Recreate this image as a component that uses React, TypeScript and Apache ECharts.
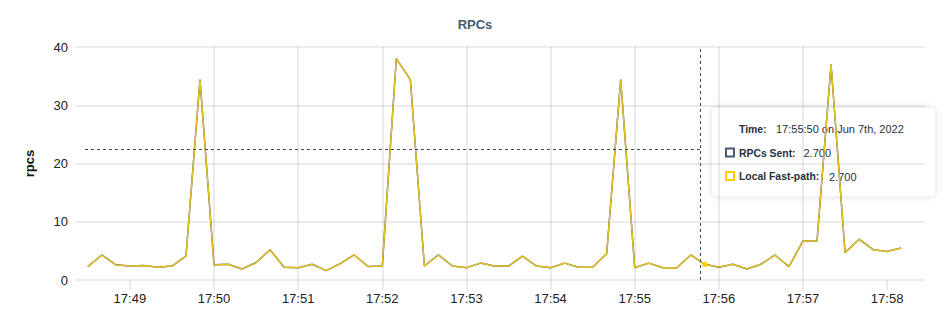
import React, { useEffect, useRef } from 'react';
import * as echarts from 'echarts';

// ---- data ----
const startTime = Date.UTC(2022, 5, 7, 17, 48, 30);
const stepMs = 10000;
const rpcsSent = [
  2.3, 4.3, 2.6, 2.4, 2.5, 2.2, 2.4, 4.1, 34.4, 2.6, 2.7, 1.9, 3.0, 5.2, 2.2, 2.1, 2.7, 1.6, 2.8, 4.3,
  2.3, 2.4, 38.0, 34.4, 2.4, 4.3, 2.4, 2.1, 2.9, 2.4, 2.4, 4.1, 2.4, 2.1, 2.9, 2.2, 2.2, 4.5, 34.4, 2.1, 2.9,
  2.1, 2.1, 4.3, 2.7, 2.2, 2.7, 1.9, 2.7, 4.3, 2.3, 6.7, 6.7, 37.0, 4.7, 7.0, 5.2, 4.9, 5.5,
];
const localFastPath = [
  2.3, 4.3, 2.6, 2.4, 2.5, 2.2, 2.4, 4.1, 34.4, 2.6, 2.7, 1.9, 3.0, 5.2, 2.2, 2.1, 2.7, 1.6, 2.8, 4.3,
  2.3, 2.4, 38.0, 34.4, 2.4, 4.3, 2.4, 2.1, 2.9, 2.4, 2.4, 4.1, 2.4, 2.1, 2.9, 2.2, 2.2, 4.5, 34.4, 2.1, 2.9,
  2.1, 2.1, 4.3, 2.7, 2.2, 2.7, 1.9, 2.7, 4.3, 2.3, 6.7, 6.7, 37.0, 4.7, 7.0, 5.2, 4.9, 5.5,
];
const seriesNames = ['RPCs Sent', 'Local Fast-path'];
const seriesColors = ['#475872', '#FFCD02'];
const xMinTime = Date.UTC(2022, 5, 7, 17, 48, 28);
const xMaxTime = Date.UTC(2022, 5, 7, 17, 58, 27);
const xTickMinutes = [49, 50, 51, 52, 53, 54, 55, 56, 57, 58];
const yTicks = [0, 10, 20, 30, 40];
const hoverIndex = 44;
const cursorTime = Date.UTC(2022, 5, 7, 17, 55, 47);
const cursorValue = 22.5;
const tooltipTimeText = '17:55:50 on Jun 7th, 2022';

const FONT = '"Liberation Sans", Arial, Helvetica, sans-serif';
const GRID = 'rgba(0,0,0,0.08)';

export default function App() {
  const ref = useRef<HTMLDivElement>(null);
  useEffect(() => {
    document.body.style.margin = '0';
    const chart = echarts.init(ref.current!, null, { renderer: 'svg' });
    const minuteTicks = xTickMinutes.map((m) => Date.UTC(2022, 5, 7, 17, m, 0));
    const toPts = (arr: number[]) => arr.map((v, i) => [startTime + i * stepMs, v]);
    const pad2 = (n: number) => (n < 10 ? '0' + n : '' + n);
    const fmt = (val: number) => {
      const d = new Date(val);
      return pad2(d.getUTCHours()) + ':' + pad2(d.getUTCMinutes());
    };
    const txt = { fontFamily: FONT, fontSize: 11, fill: '#263041', verticalAlign: 'middle' };
    const bold = { ...txt, fontSize: 10.4, fontWeight: 'bold' };
    const ttX = 711, ttY = 107;
    chart.setOption({
      animation: false,
      title: {
        text: 'RPCs',
        left: 'center',
        top: 13,
        textStyle: { fontFamily: FONT, fontSize: 13, fontWeight: 'bold', color: '#475872' },
      },
      grid: { left: 85, right: 25, top: 47, bottom: 50, containLabel: false },
      xAxis: {
        type: 'value',
        min: xMinTime,
        max: xMaxTime,
        axisLine: { show: false },
        axisTick: { show: true, length: 10, customValues: minuteTicks, lineStyle: { color: GRID, width: 2 } },
        axisLabel: { customValues: minuteTicks, formatter: fmt, color: '#222', fontSize: 13, margin: 12, fontFamily: FONT },
        splitLine: { show: true, showMinLine: false, showMaxLine: false, lineStyle: { color: GRID, width: 2 } },
      },
      yAxis: {
        type: 'value',
        min: yTicks[0],
        max: yTicks[yTicks.length - 1],
        interval: 10,
        name: 'rpcs',
        nameLocation: 'middle',
        nameRotate: 90,
        nameGap: 49,
        nameTextStyle: { fontFamily: FONT, fontSize: 13, fontWeight: 'bold', color: '#111' },
        axisLine: { show: false },
        axisTick: { show: true, length: 10, lineStyle: { color: GRID, width: 2 } },
        axisLabel: { color: '#222', fontSize: 13, margin: 17, fontFamily: FONT },
        splitLine: { show: true, lineStyle: { color: GRID, width: 2 } },
      },
      series: [
        {
          name: seriesNames[0],
          type: 'line',
          data: toPts(rpcsSent),
          showSymbol: false,
          lineStyle: { color: seriesColors[0], width: 1.5 },
          itemStyle: { color: seriesColors[0] },
          silent: true,
        },
        {
          name: seriesNames[1],
          type: 'line',
          data: toPts(localFastPath),
          showSymbol: false,
          lineStyle: { color: '#E6C21F', width: 1.4 },
          itemStyle: { color: seriesColors[1] },
          silent: true,
          markLine: {
            silent: true,
            symbol: ['none', 'none'],
            label: { show: false },
            lineStyle: { type: [3, 3], color: '#3d4a60', width: 1 },
            emphasis: { disabled: true },
            data: [
              [{ coord: [xMinTime, cursorValue] }, { coord: [cursorTime, cursorValue] }],
              [{ coord: [cursorTime, yTicks[0]] }, { coord: [cursorTime, yTicks[yTicks.length - 1]] }],
            ],
          },
          markPoint: {
            silent: true,
            symbol: 'rect',
            symbolSize: 5,
            itemStyle: { color: seriesColors[1] },
            label: { show: false },
            data: [{ coord: [startTime + hoverIndex * stepMs, localFastPath[hoverIndex]] }],
          },
        },
      ],
      graphic: [
        {
          type: 'group',
          x: ttX,
          y: ttY,
          children: [
            {
              type: 'rect',
              shape: { x: 0, y: 0, width: 225, height: 90, r: 6 },
              style: { fill: '#fff', stroke: '#e4e6ea', lineWidth: 1, shadowBlur: 8, shadowColor: 'rgba(0,0,0,0.08)' },
            },
            { type: 'text', x: 28, y: 22, style: { ...bold, text: 'Time:' } },
            { type: 'text', x: 65, y: 22, style: { ...txt, text: tooltipTimeText } },
            {
              type: 'rect',
              shape: { x: 15, y: 41.5, width: 8, height: 8 },
              style: { fill: 'none', stroke: seriesColors[0], lineWidth: 2 },
            },
            { type: 'text', x: 28, y: 46, style: { ...bold, text: seriesNames[0] + ':' } },
            { type: 'text', x: 92.5, y: 46, style: { ...txt, text: rpcsSent[hoverIndex].toFixed(3) } },
            {
              type: 'rect',
              shape: { x: 15, y: 65, width: 8, height: 8 },
              style: { fill: 'none', stroke: seriesColors[1], lineWidth: 2 },
            },
            { type: 'text', x: 28, y: 69.5, style: { ...bold, text: seriesNames[1] + ':' } },
            { type: 'text', x: 118, y: 69.5, style: { ...txt, text: localFastPath[hoverIndex].toFixed(3) } },
          ],
        },
      ],
    });
    return () => chart.dispose();
  }, []);
  return <div ref={ref} style={{ width: 950, height: 330 }} />;
}
